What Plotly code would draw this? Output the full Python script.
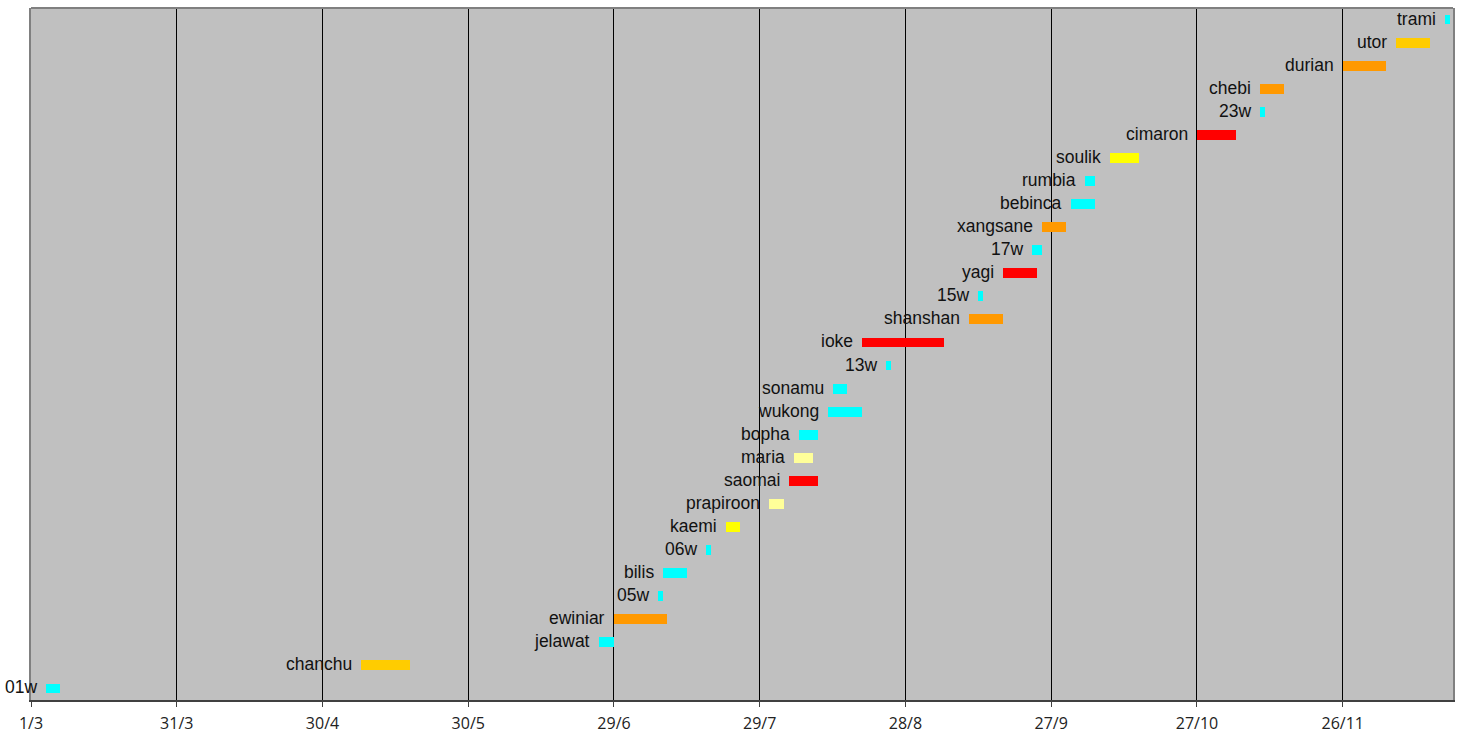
import pandas as pd
import plotly.graph_objects as go

season_start = "2006-03-01"

names = ["01w", "chanchu", "jelawat", "ewiniar", "05w", "bilis", "06w", "kaemi",
         "prapiroon", "saomai", "maria", "bopha", "wukong", "sonamu", "13w", "ioke",
         "shanshan", "15w", "yagi", "17w", "xangsane", "bebinca", "rumbia", "soulik",
         "cimaron", "23w", "chebi", "durian", "utor", "trami"]

start_dates = ["2006-03-04", "2006-05-08", "2006-06-26", "2006-06-29", "2006-07-08",
               "2006-07-09", "2006-07-18", "2006-07-22", "2006-07-31", "2006-08-04",
               "2006-08-05", "2006-08-06", "2006-08-12", "2006-08-13", "2006-08-24",
               "2006-08-19", "2006-09-10", "2006-09-12", "2006-09-17", "2006-09-23",
               "2006-09-25", "2006-10-01", "2006-10-04", "2006-10-09", "2006-10-27",
               "2006-11-09", "2006-11-09", "2006-11-26", "2006-12-07", "2006-12-17"]

end_dates = ["2006-03-07", "2006-05-18", "2006-06-29", "2006-07-10", "2006-07-09",
             "2006-07-14", "2006-07-19", "2006-07-25", "2006-08-03", "2006-08-10",
             "2006-08-09", "2006-08-10", "2006-08-19", "2006-08-16", "2006-08-25",
             "2006-09-05", "2006-09-17", "2006-09-13", "2006-09-24", "2006-09-25",
             "2006-09-30", "2006-10-06", "2006-10-06", "2006-10-15", "2006-11-04",
             "2006-11-10", "2006-11-14", "2006-12-05", "2006-12-14", "2006-12-18"]

colors = ["#00FFFF", "#FFCC00", "#00FFFF", "#FF9900", "#00FFFF", "#00FFFF", "#00FFFF",
          "#FFFF00", "#FFFF99", "#FF0000", "#FFFF99", "#00FFFF", "#00FFFF", "#00FFFF",
          "#00FFFF", "#FF0000", "#FF9900", "#00FFFF", "#FF0000", "#00FFFF", "#FF9900",
          "#00FFFF", "#00FFFF", "#FFFF00", "#FF0000", "#00FFFF", "#FF9900", "#FF9900",
          "#FFCC00", "#00FFFF"]

tick_dates = ["2006-03-01", "2006-03-31", "2006-04-30", "2006-05-30", "2006-06-29",
              "2006-07-29", "2006-08-28", "2006-09-27", "2006-10-27", "2006-11-26"]
tick_labels = ["1/3", "31/3", "30/4", "30/5", "29/6", "29/7", "28/8", "27/9", "27/10", "26/11"]

t0 = pd.Timestamp(season_start)
def day(d):
    return (pd.Timestamp(d) - t0).days

starts = [day(d) for d in start_dates]
ends = [day(d) for d in end_dates]
durations = [e - s for s, e in zip(starts, ends)]
tick_vals = [day(d) for d in tick_dates]

fig = go.Figure()
fig.add_trace(go.Bar(
    y=names, x=durations, base=starts, orientation="h",
    marker=dict(color=colors, line=dict(width=0)),
    width=0.43, hoverinfo="skip", showlegend=False,
))

for n, s in zip(names, starts):
    fig.add_annotation(x=s, y=n, text=n, showarrow=False, xanchor="right",
                       xshift=-7, yshift=1,
                       font=dict(family="Liberation Sans, Arial", size=17.5, color="#111111"))

fig.add_shape(type="line", xref="paper", yref="paper", x0=0, x1=1, y0=1, y1=1,
              line=dict(color="#808080", width=2))

fig.update_layout(
    width=1467, height=738,
    margin=dict(l=31, r=14, t=8, b=38),
    paper_bgcolor="white", plot_bgcolor="#C0C0C0",
    bargap=0,
    xaxis=dict(
        range=[0, 292.7], tickvals=tick_vals, ticktext=tick_labels,
        showgrid=True, gridcolor="#000000", gridwidth=1, zeroline=False,
        showline=True, linecolor="#404040", linewidth=2,
        ticks="outside", ticklen=5, tickcolor="#404040", tickwidth=1,
        ticklabelstandoff=3, automargin=False,
        tickfont=dict(family="Open Sans", size=16, color="#222222"),
    ),
    yaxis=dict(
        range=[-0.5, len(names) - 0.5], showticklabels=False, showgrid=False,
        zeroline=False, showline=True, linecolor="#808080", linewidth=2,
        mirror=True, ticks="", automargin=False,
    ),
)

fig.write_html("out.html", config={"displayModeBar": False},
               post_script="document.body.style.margin='0';document.body.style.overflow='hidden';")
